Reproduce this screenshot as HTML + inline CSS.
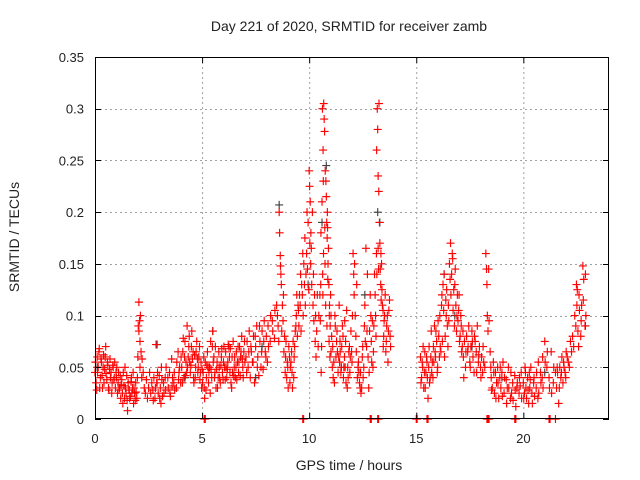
<!DOCTYPE html>
<html><head><meta charset="utf-8"><style>
body{margin:0;background:#fff;}
svg{display:block;font-family:"Liberation Sans",sans-serif;}
</style></head><body>
<svg id="chart" width="640" height="480"></svg>
<script>
const xTicks=[0,5,10,15,20];
const yTicks=[0,0.05,0.1,0.15,0.2,0.25,0.3,0.35];
const yTickLabels=["0","0.05","0.1","0.15","0.2","0.25","0.3","0.35"];
const hours=[
0.0,0.05,0.1,0.15,0.2,0.25,0.3,0.35,0.4,0.45,0.5,0.55,0.6,0.65,0.7,0.75,0.8,0.85,0.9,0.95,
0.02,0.08,0.12,0.18,0.22,0.28,0.33,0.38,0.42,0.48,0.52,0.58,0.63,0.68,0.72,0.78,0.83,0.88,0.92,0.98,
1.0,1.05,1.1,1.15,1.2,1.25,1.3,1.35,1.4,1.45,1.5,1.55,1.6,1.65,1.7,1.75,1.8,1.85,1.9,1.95,
1.02,1.08,1.12,1.18,1.22,1.28,1.32,1.38,1.42,1.48,1.52,1.58,1.62,1.68,1.72,1.78,1.82,1.88,1.92,1.98,
2.0,2.02,2.05,2.05,2.08,2.1,2.1,2.12,2.15,2.18,2.2,2.25,2.3,2.35,2.4,2.45,2.5,2.55,2.6,2.65,
2.7,2.75,2.8,2.85,2.9,2.95,3.0,3.05,3.1,3.15,3.2,3.3,3.4,3.5,3.6,3.7,3.8,3.9,3.95,4.0,
2.72,2.82,2.92,3.02,3.12,3.22,3.32,3.42,3.52,3.62,3.72,3.82,3.92,2.88,3.08,3.28,3.48,3.68,3.88,3.58,
4.05,4.1,4.15,4.2,4.25,4.3,4.35,4.4,4.45,4.5,4.55,4.6,4.65,4.7,4.75,4.8,4.85,4.9,4.95,5.0,
4.08,4.18,4.28,4.38,4.48,4.58,4.68,4.78,4.88,4.98,4.12,4.32,4.52,4.72,4.92,4.22,4.42,4.62,4.82,4.02,
5.05,5.1,5.15,5.2,5.25,5.3,5.35,5.4,5.45,5.5,5.55,5.6,5.65,5.7,5.75,5.8,5.85,5.9,5.95,6.0,
5.08,5.18,5.28,5.38,5.48,5.58,5.68,5.78,5.88,5.98,5.12,5.32,5.52,5.72,5.92,5.22,5.42,5.62,5.82,5.02,
6.05,6.1,6.15,6.2,6.25,6.3,6.35,6.4,6.45,6.5,6.55,6.6,6.65,6.7,6.75,6.8,6.85,6.9,6.95,7.0,
6.08,6.18,6.28,6.38,6.48,6.58,6.68,6.78,6.88,6.98,6.12,6.32,6.52,6.72,6.92,6.22,6.42,6.62,6.82,6.02,
7.05,7.1,7.15,7.2,7.3,7.35,7.4,7.5,7.55,7.6,7.7,7.75,7.8,7.9,7.95,8.0,8.1,8.2,8.3,8.4,
7.08,7.18,7.28,7.38,7.48,7.58,7.68,7.78,7.88,7.98,8.08,8.18,8.28,8.38,8.48,7.25,7.45,7.65,7.85,8.05,
8.55,8.6,8.62,8.65,8.7,8.75,8.8,8.85,8.9,8.95,9.0,9.05,9.1,9.15,9.2,9.25,9.3,9.35,9.4,9.45,
8.52,8.58,8.68,8.72,8.78,8.82,8.88,8.92,8.98,9.02,9.08,9.12,9.18,9.22,9.28,9.32,9.38,9.42,9.48,8.66,
9.5,9.55,9.6,9.65,9.7,9.75,9.8,9.85,9.9,9.95,10.0,10.02,10.05,10.08,10.1,10.15,10.2,10.25,10.3,10.35,
9.52,9.58,9.62,9.68,9.72,9.78,9.82,9.88,9.92,9.98,10.03,10.07,10.12,10.18,10.22,10.28,10.32,10.38,10.42,10.45,
10.5,10.55,10.6,10.62,10.65,10.68,10.7,10.72,10.75,10.78,10.8,10.82,10.85,10.88,10.9,10.92,10.95,10.98,11.0,11.05,
10.52,10.58,10.63,10.67,10.73,10.77,10.83,10.87,10.93,10.97,11.02,11.08,10.56,10.64,10.74,10.84,10.94,10.54,10.66,10.86,
11.1,11.15,11.2,11.25,11.3,11.35,11.4,11.45,11.5,11.55,11.6,11.65,11.7,11.75,11.8,11.85,11.9,11.95,12.0,11.12,
11.18,11.28,11.38,11.48,11.58,11.68,11.78,11.88,11.98,11.22,11.42,11.62,11.82,11.32,11.52,11.72,11.92,11.02,11.44,11.66,
12.05,12.1,12.15,12.2,12.25,12.3,12.35,12.4,12.45,12.5,12.55,12.6,12.65,12.7,12.75,12.8,12.85,12.9,12.95,13.0,
12.08,12.18,12.28,12.38,12.48,12.58,12.68,12.78,12.88,12.98,12.12,12.32,12.52,12.72,12.92,12.22,12.42,12.62,12.82,12.02,
13.05,13.1,13.15,13.18,13.2,13.22,13.25,13.28,13.3,13.32,13.35,13.4,13.45,13.5,13.55,13.6,13.65,13.7,13.75,13.8,
13.08,13.12,13.16,13.24,13.26,13.34,13.38,13.42,13.48,13.52,13.58,13.62,13.68,13.72,13.78,13.02,13.14,13.22,13.36,13.46,
15.2,15.25,15.3,15.35,15.4,15.45,15.5,15.55,15.6,15.65,15.7,15.75,15.8,15.85,15.9,15.95,16.0,16.05,16.1,16.15,
15.22,15.28,15.32,15.38,15.42,15.48,15.52,15.58,15.62,15.68,15.72,15.78,15.82,15.88,15.92,15.98,16.02,16.08,16.12,16.18,
16.2,16.25,16.3,16.35,16.4,16.45,16.5,16.55,16.6,16.65,16.7,16.75,16.8,16.85,16.9,16.95,17.0,17.05,17.1,17.15,
16.22,16.28,16.32,16.38,16.42,16.48,16.52,16.58,16.62,16.68,16.72,16.78,16.82,16.88,16.92,16.98,17.02,17.08,17.12,17.18,
17.2,17.25,17.3,17.35,17.4,17.45,17.5,17.55,17.6,17.65,17.7,17.75,17.8,17.85,17.9,17.95,18.0,18.05,18.1,18.15,
17.22,17.32,17.42,17.52,17.62,17.72,17.82,17.92,18.02,18.12,18.2,18.25,18.28,18.3,18.32,18.35,18.38,18.4,18.45,18.48,
18.5,18.55,18.6,18.65,18.7,18.75,18.8,18.85,18.9,18.95,19.0,19.1,19.2,19.3,19.4,19.5,19.6,19.7,19.8,19.9,
18.52,18.62,18.72,18.82,18.92,19.02,19.12,19.22,19.32,19.42,19.52,19.62,19.72,19.82,19.92,19.05,19.25,19.45,19.65,19.85,
20.0,20.05,20.1,20.15,20.2,20.25,20.3,20.35,20.4,20.5,20.6,20.7,20.8,20.9,21.0,21.1,21.2,21.3,21.4,21.5,
20.02,20.12,20.22,20.32,20.42,20.52,20.62,20.72,20.82,20.92,21.02,21.12,21.22,21.32,21.42,20.08,20.28,20.48,20.68,20.88,
21.55,21.6,21.65,21.7,21.75,21.8,21.85,21.9,21.95,22.0,22.1,22.2,22.3,22.4,22.5,22.55,22.6,22.7,22.8,22.9,
21.58,21.68,21.78,21.88,21.98,22.05,22.15,22.25,22.35,22.45,22.48,22.52,22.58,22.62,22.68,22.72,22.78,22.82,22.88,22.92,
5.1,5.15,9.7,9.74,12.85,12.9,13.2,13.24,15.0,15.04,15.5,15.55,18.3,18.35,18.4,19.6,19.65,21.2,21.25,21.5
];
const srmtid=[
.045,.035,.06,.05,.068,.04,.055,.03,.062,.048,.07,.038,.052,.028,.058,.045,.035,.05,.04,.03,
.055,.028,.045,.065,.03,.058,.042,.05,.035,.06,.044,.055,.03,.048,.04,.025,.052,.038,.055,.045,
.04,.025,.045,.03,.02,.038,.015,.032,.05,.025,.018,.035,.028,.022,.04,.03,.015,.025,.035,.02,
.05,.035,.028,.042,.033,.025,.045,.02,.03,.042,.008,.028,.02,.036,.025,.045,.03,.018,.026,.04,
.06,.09,.113,.085,.095,.075,.05,.1,.065,.04,.058,.045,.03,.025,.038,.02,.03,.045,.025,.035,
.028,.04,.02,.072,.035,.025,.042,.03,.05,.022,.035,.028,.04,.025,.032,.045,.03,.038,.05,.035,
.018,.03,.045,.02,.038,.025,.05,.03,.022,.04,.028,.055,.045,.035,.015,.04,.045,.035,.065,.058,
.05,.065,.04,.075,.055,.09,.06,.08,.045,.07,.058,.04,.062,.05,.075,.045,.06,.038,.055,.048,
.035,.06,.045,.07,.052,.065,.04,.058,.07,.03,.078,.05,.085,.065,.045,.042,.055,.035,.05,.06,
.045,.03,.055,.04,.065,.035,.05,.075,.04,.085,.06,.045,.03,.055,.04,.05,.035,.06,.045,.055,
.06,.028,.05,.025,.07,.04,.048,.065,.052,.038,.02,.045,.055,.03,.068,.052,.048,.07,.04,.035,
.05,.065,.04,.055,.07,.045,.035,.06,.075,.05,.04,.065,.055,.045,.07,.06,.08,.05,.065,.055,
.038,.048,.06,.03,.042,.05,.07,.042,.058,.075,.05,.068,.06,.055,.04,.072,.045,.038,.065,.07,
.06,.075,.05,.085,.065,.055,.08,.07,.09,.06,.075,.05,.085,.095,.065,.08,.07,.1,.085,.105,
.045,.065,.07,.055,.08,.05,.09,.065,.075,.06,.09,.075,.095,.078,.11,.04,.035,.042,.048,.055,
.09,.2,.18,.158,.13,.11,.12,.08,.06,.04,.05,.07,.035,.055,.045,.075,.06,.085,.1,.08,
.1,.075,.14,.085,.095,.065,.045,.075,.055,.03,.06,.05,.065,.03,.04,.07,.09,.12,.11,.148,
.105,.12,.14,.13,.16,.15,.175,.14,.2,.19,.24,.225,.21,.18,.165,.2,.14,.12,.1,.085,
.09,.11,.085,.12,.1,.13,.11,.16,.145,.125,.17,.15,.13,.11,.095,.075,.06,.12,.07,.1,
.12,.18,.21,.3,.26,.305,.29,.278,.24,.23,.215,.19,.2,.15,.165,.13,.11,.09,.12,.08,
.095,.07,.14,.16,.185,.11,.09,.135,.075,.06,.1,.05,.045,.12,.15,.175,.1,.13,.23,.185,
.07,.055,.1,.06,.085,.045,.11,.065,.05,.09,.04,.06,.075,.105,.05,.065,.045,.085,.055,.04,
.035,.075,.06,.045,.08,.05,.03,.07,.065,.09,.055,.05,.04,.065,.07,.035,.06,.065,.075,.095,
.16,.12,.1,.065,.04,.055,.035,.045,.03,.07,.05,.11,.165,.085,.06,.045,.12,.075,.095,.065,
.14,.08,.05,.03,.06,.09,.07,.03,.1,.05,.15,.045,.04,.14,.055,.13,.025,.075,.085,.1,
.14,.1,.26,.3,.28,.235,.22,.19,.17,.145,.16,.125,.105,.095,.12,.075,.1,.085,.115,.07,
.12,.08,.14,.145,.305,.13,.15,.11,.08,.1,.065,.09,.055,.105,.08,.09,.16,.165,.115,.07,
.06,.04,.05,.03,.065,.045,.055,.02,.07,.04,.085,.055,.07,.09,.06,.075,.05,.08,.1,.065,
.035,.055,.07,.045,.03,.06,.04,.05,.035,.06,.045,.04,.055,.065,.085,.045,.095,.06,.07,.11,
.12,.13,.14,.08,.1,.09,.11,.15,.17,.14,.155,.125,.13,.11,.1,.095,.12,.08,.09,.07,
.075,.105,.06,.115,.125,.07,.095,.135,.12,.16,.105,.09,.145,.085,.12,.105,.075,.1,.065,.085,
.06,.075,.05,.08,.065,.09,.055,.07,.085,.06,.045,.075,.065,.09,.055,.07,.05,.06,.045,.055,
.04,.065,.07,.05,.075,.08,.045,.062,.04,.07,.05,.16,.145,.13,.1,.085,.145,.095,.065,.05,
.04,.03,.055,.025,.045,.035,.05,.02,.04,.03,.045,.025,.038,.05,.02,.035,.042,.03,.025,.045,
.028,.045,.02,.035,.05,.022,.04,.015,.03,.045,.018,.028,.035,.04,.02,.055,.03,.025,.012,.032,
.035,.025,.045,.02,.04,.015,.03,.05,.025,.04,.03,.055,.045,.06,.075,.05,.04,.065,.035,.045,
.02,.03,.028,.038,.015,.022,.045,.025,.035,.03,.055,.065,.03,.025,.05,.05,.045,.035,.02,.04,
.03,.045,.015,.05,.04,.06,.035,.05,.045,.065,.055,.075,.08,.1,.11,.085,.12,.095,.115,.14,
.05,.03,.045,.055,.04,.06,.05,.065,.07,.09,.13,.125,.07,.105,.08,.11,.148,.135,.09,.1,
0,0,0,0,0,0,0,0,0,0,0,0,0,0,0,0,0,0,0,0
];
const grayHours=[0.1,2.9,4.2,5.5,7.5,7.8,8.6,9.95,10.6,10.8,11.5,12.6,13.2,13.3,16.3,16.8,17.6,19.0,21.0,22.9];
const graySrmtid=[.05,.072,.04,.085,.04,.07,.207,.13,.19,.245,.05,.12,.2,.19,.14,.1,.07,.04,.045,.09];

const NS="http://www.w3.org/2000/svg";
const svg=document.getElementById('chart');
const L=95,R=609,T=57,B=419,XMAX=24,YMAX=0.35;
function sx(v){return L+(R-L)*v/XMAX;}
function sy(v){return B-(B-T)*v/YMAX;}
function mk(tag,attrs,parent){const e=document.createElementNS(NS,tag);for(const k in attrs)e.setAttribute(k,attrs[k]);(parent||svg).appendChild(e);return e;}

const grid=mk('g',{stroke:'#a0a0a0','stroke-width':1,'stroke-dasharray':'2,3'});


xTicks.forEach(t=>{if(t>0)mk('line',{x1:sx(t)+0.5,x2:sx(t)+0.5,y1:T,y2:B},grid);});
yTicks.forEach(t=>{if(t>0&&t<YMAX)mk('line',{x1:L,x2:R,y1:Math.round(sy(t))+0.5,y2:Math.round(sy(t))+0.5},grid);});

function drawSeries(xs,ys,color,name){
  let d='';
  for(let i=0;i<xs.length;i++){const x=sx(xs[i]),y=sy(ys[i]);d+=`M${x-4} ${y}h8M${x} ${y-4}v8`;}
  const p=mk('path',{d:d,stroke:color,'stroke-width':1.15,fill:'none'});
  
  
}
drawSeries(grayHours,graySrmtid,'#404040','series-gray-points');
drawSeries(hours,srmtid,'#ff0000','series-red-points');

const axes=mk('g',{stroke:'#000','stroke-width':1,fill:'none'});


mk('rect',{x:L+0.5,y:T+0.5,width:R-L-1,height:B-T-1},axes);
xTicks.forEach(t=>{const x=sx(t)+0.5;mk('line',{x1:x,x2:x,y1:B,y2:B-6},axes);mk('line',{x1:x,x2:x,y1:T,y2:T+6},axes);});
yTicks.forEach(t=>{const y=Math.round(sy(t))+0.5;mk('line',{x1:L,x2:L+6,y1:y,y2:y},axes);mk('line',{x1:R-6,x2:R,y1:y,y2:y},axes);});

xTicks.forEach(t=>{const e=mk('text',{x:sx(t),y:B+24,'text-anchor':'middle','font-size':13,fill:'#222'});e.textContent=String(t);

});
yTicks.forEach((t,i)=>{const e=mk('text',{x:L-11,y:sy(t)+5,'text-anchor':'end','font-size':13,fill:'#222'});e.textContent=yTickLabels[i];

});
</script>
<div style="position:absolute;left:0;top:0;width:640px;height:480px;pointer-events:none;font-family:'Liberation Sans',sans-serif;color:#222;font-size:14px;">
<div style="position:absolute;left:0;width:698px;text-align:center;top:18px;">Day 221 of 2020, SRMTID for receiver zamb</div>
<div style="position:absolute;left:0;width:698px;text-align:center;top:457px;">GPS time / hours</div>
<div style="position:absolute;left:-86px;top:229px;width:200px;text-align:center;transform:rotate(-90deg);">SRMTID / TECUs</div>
</div>
</body></html>
